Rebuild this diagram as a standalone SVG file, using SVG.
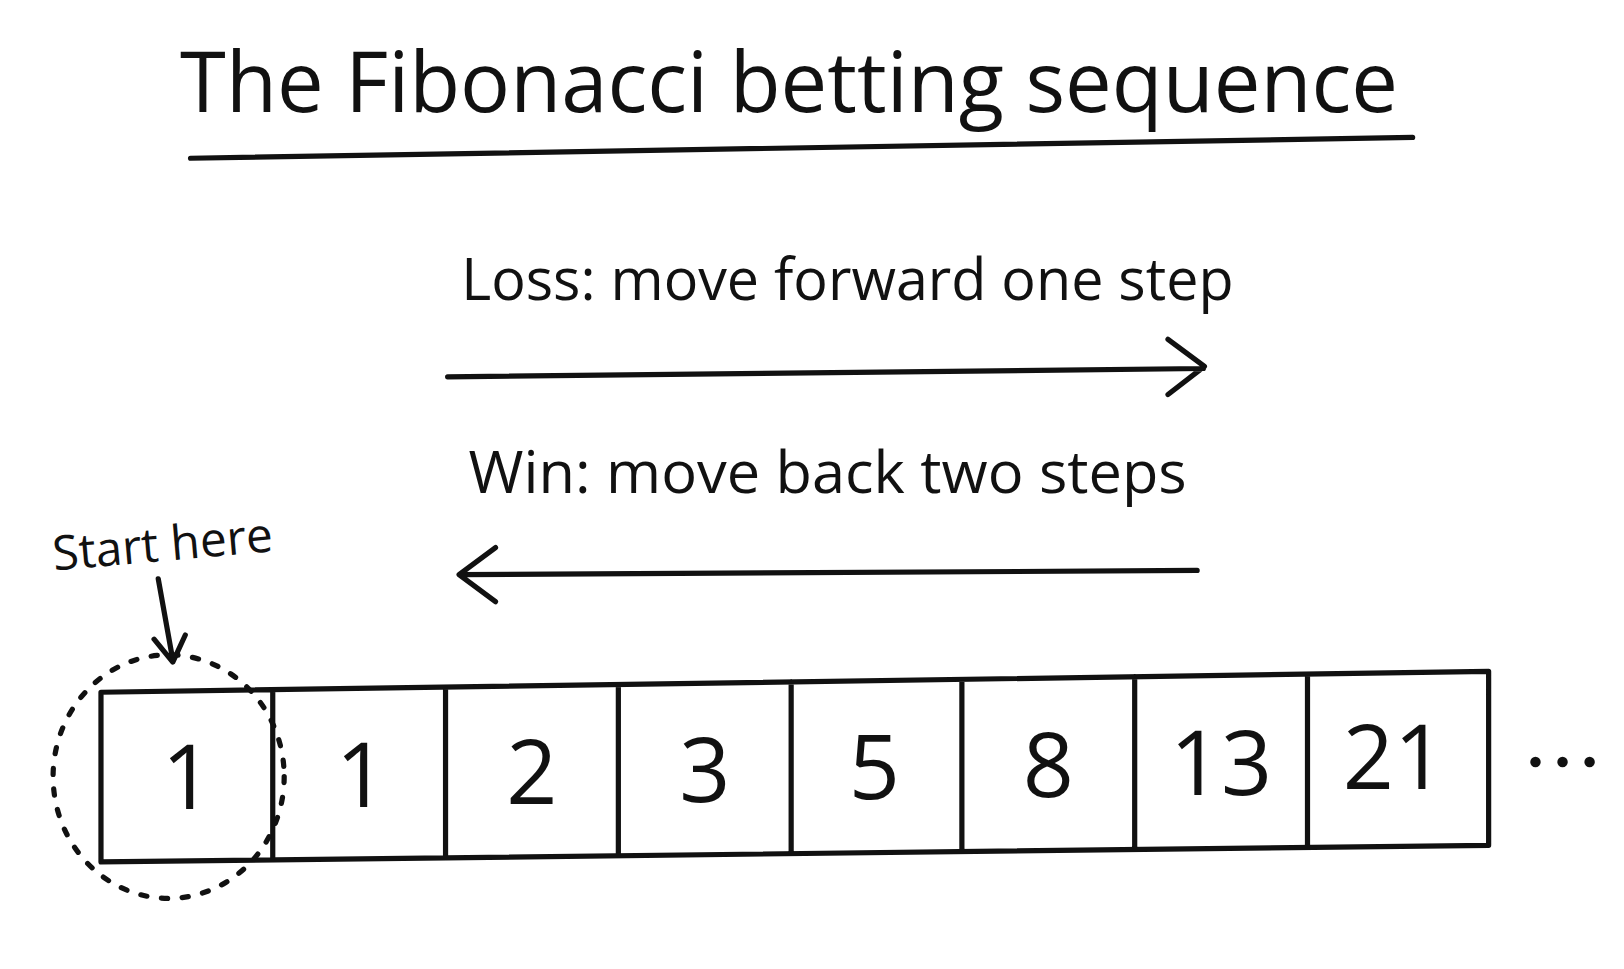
<svg xmlns="http://www.w3.org/2000/svg" width="1624" height="969" viewBox="0 0 1624 969">
<style>
.t{font-family:"Open Sans","DejaVu Sans",sans-serif;fill:#111}
.s{stroke:#111;fill:none;stroke-width:5;stroke-linecap:round;stroke-linejoin:round}
.n{font-family:"Open Sans","DejaVu Sans",sans-serif;font-size:86px;fill:#111;text-anchor:middle}
</style>
<rect width="1624" height="969" fill="#fff"/>
<g transform="scale(1.041)">
<g id="title">
<text class="t" x="758" y="108" font-size="80" text-anchor="middle" textLength="1170" lengthAdjust="spacingAndGlyphs">The Fibonacci betting sequence</text>
<path class="s" d="M183,152 L1357,132"/>
</g>
<g id="connectors">
<path class="s" d="M430,362 L1156,354 M1122,326 L1157,352 L1122,379"/>
<path class="s" d="M1150,548 L442,552 M476,526 L441,552 L476,578"/>
<path class="s" stroke-width="4" d="M152,556 L166,634 M148,614 L166,636 L178,610"/>
</g>
<g id="loss"><text class="t" x="443" y="288" font-size="56" textLength="742" lengthAdjust="spacingAndGlyphs">Loss: move forward one step</text></g>
<g id="win"><text class="t" x="450" y="474" font-size="56" textLength="690" lengthAdjust="spacingAndGlyphs">Win: move back two steps</text></g>
<g id="start"><text class="t" x="52" y="548" font-size="46" textLength="212" lengthAdjust="spacingAndGlyphs" transform="rotate(-5 52 548)">Start here</text></g>
<g id="sequence">
<path class="s" d="M97,665 L1430,645 L1430,812 L97,828 Z M262,663 L262,826 M428,660 L428,824 M594,658 L594,822 M760,655 L760,820 M924,653 L924,818 M1090,650 L1090,816 M1256,648 L1256,814"/>
<text class="n" x="180" y="777">1</text>
<text class="n" x="347" y="775">1</text>
<text class="n" x="511" y="772">2</text>
<text class="n" x="677" y="770">3</text>
<text class="n" x="840" y="768">5</text>
<text class="n" x="1007" y="766">8</text>
<text class="n" x="1173" y="764">13</text>
<text class="n" x="1339" y="758">21</text>
</g>
<g id="start-circle"><ellipse cx="162" cy="746" rx="111" ry="117" class="s" stroke-dasharray="6 14"/></g>
<g id="ellipsis" fill="#111"><circle cx="1475" cy="732" r="5"/><circle cx="1501" cy="732" r="5"/><circle cx="1527" cy="732" r="5"/></g>
</g>
</svg>
